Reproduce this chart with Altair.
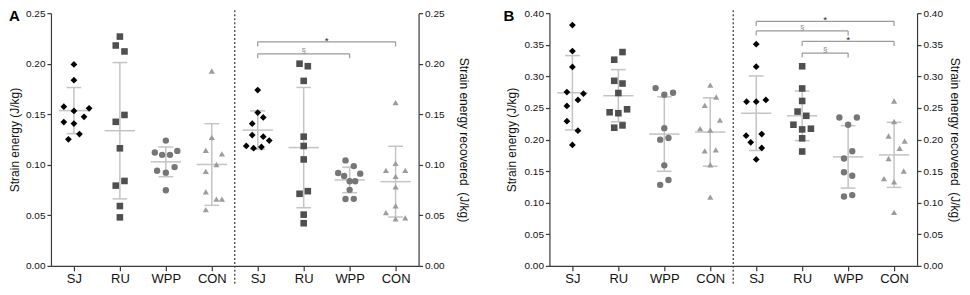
import altair as alt
import pandas as pd

GROUPS = ["SJ", "RU", "WPP", "CON"]
SHAPES = ["diamond", "square", "circle", "triangle-up"]
COLORS = ["#000000", "#4f4f4f", "#767676", "#9c9c9c"]
SIZES = [46, 38, 38, 56]
LINE = "#c4c4c4"
AXIS_COLOR = "#3a3a3a"
FONT = "Arial"

LEFT_TITLE = "Strain energy (J/kg)"
RIGHT_TITLE = "Strain energy recovered \u00a0(J/kg)"

# ---------------- Panel A ----------------
A_ENERGY = {
    "SJ": [0.1993, 0.1837, 0.1575, 0.1559, 0.1533, 0.1474, 0.1422, 0.1408, 0.1304, 0.1252],
    "RU": [0.2268, 0.2180, 0.2121, 0.1493, 0.1425, 0.1163, 0.0840, 0.0794, 0.0592, 0.0480],
    "WPP": [0.1239, 0.1121, 0.1098, 0.1098, 0.1137, 0.0941, 0.0922, 0.0977, 0.0748],
    "CON": [0.1928, 0.1271, 0.1144, 0.1108, 0.1003, 0.0935, 0.0732, 0.0660, 0.0660, 0.0556],
}
A_ENERGY_JITTER = {
    "SJ": [0, 0, -0.22, 0.33, 0, 0.22, -0.22, 0, 0.12, -0.12],
    "RU": [0, -0.09, 0.1, 0.1, -0.09, 0, 0.1, -0.09, 0, 0],
    "WPP": [0, -0.24, -0.08, 0.09, 0.25, -0.19, 0, 0.19, 0],
    "CON": [0, 0, -0.13, 0.22, 0.1, -0.13, -0.13, 0.1, 0.22, -0.13],
}
A_RECOV = {
    "SJ": [0.1739, 0.1517, 0.1468, 0.1406, 0.1294, 0.1278, 0.1239, 0.1186, 0.1164, 0.1176],
    "RU": [0.2000, 0.1975, 0.1830, 0.1278, 0.1186, 0.1053, 0.0713, 0.0739, 0.0507, 0.0422],
    "WPP": [0.1043, 0.0987, 0.0919, 0.0889, 0.0912, 0.0837, 0.0837, 0.0752, 0.0661, 0.0663],
    "CON": [0.1615, 0.1014, 0.0945, 0.0945, 0.0886, 0.0781, 0.0595, 0.0526, 0.0465, 0.0475],
}
A_RECOV_JITTER = {
    "SJ": [0, 0, 0.12, -0.12, -0.12, 0.12, 0.25, -0.25, -0.09, 0.08],
    "RU": [-0.09, 0.09, 0, 0, 0, 0, -0.09, 0.09, 0, 0],
    "WPP": [-0.09, 0.09, -0.25, -0.12, 0.23, 0, 0.12, 0, -0.09, 0.09],
    "CON": [0, 0, -0.21, 0.21, 0, 0, 0, -0.21, 0, 0.21],
}
A_ENERGY_MEAN = [0.1536, 0.1337, 0.1029, 0.1003]
A_ENERGY_SD = [0.0228, 0.0674, 0.0147, 0.0404]
A_RECOV_MEAN = [0.1343, 0.1170, 0.0850, 0.0833]
A_RECOV_SD = [0.0190, 0.0595, 0.0126, 0.0350]
A_BR_FROM = ["SJ", "SJ"]
A_BR_TO = ["CON", "WPP"]
A_BR_Y = [0.2216, 0.2098]
A_BR_TEXT = ["*", "§"]

# ---------------- Panel B ----------------
B_ENERGY = {
    "SJ": [0.3812, 0.3399, 0.3148, 0.2751, 0.2725, 0.2626, 0.2532, 0.2290, 0.2140, 0.1914],
    "RU": [0.3384, 0.3263, 0.2929, 0.2886, 0.2736, 0.2431, 0.2416, 0.2478, 0.2187, 0.2223],
    "WPP": [0.2814, 0.2709, 0.2740, 0.2180, 0.1998, 0.2024, 0.1591, 0.1282, 0.1360],
    "CON": [0.2861, 0.2673, 0.2541, 0.2306, 0.2171, 0.2149, 0.1820, 0.1835, 0.1600, 0.1089],
}
B_ENERGY_JITTER = {
    "SJ": [0, 0, 0, -0.12, 0.24, 0.12, -0.12, -0.12, 0.12, 0],
    "RU": [0.09, -0.09, -0.09, 0.09, 0, -0.19, 0, 0.19, -0.09, 0.09],
    "WPP": [-0.19, 0, 0.19, 0, -0.09, 0.09, 0, -0.09, 0.09],
    "CON": [0, 0.13, -0.12, 0.21, -0.22, 0, -0.12, 0.12, 0, 0],
}
B_RECOV = {
    "SJ": [0.3509, 0.3153, 0.2599, 0.2599, 0.2626, 0.2061, 0.2086, 0.1956, 0.1867, 0.1685],
    "RU": [0.3159, 0.2808, 0.2610, 0.2442, 0.2375, 0.2234, 0.2160, 0.2171, 0.2019, 0.1810],
    "WPP": [0.2348, 0.2348, 0.2234, 0.1815, 0.1700, 0.1481, 0.1427, 0.1098, 0.1120],
    "CON": [0.2610, 0.2285, 0.2055, 0.1976, 0.1862, 0.1700, 0.1501, 0.1380, 0.1329, 0.0847],
}
B_RECOV_JITTER = {
    "SJ": [0, 0, -0.21, 0, 0.21, -0.22, 0.12, -0.12, 0.12, 0],
    "RU": [0, 0, 0, -0.1, 0.09, -0.19, 0, 0.19, 0, 0],
    "WPP": [-0.19, 0.19, 0, 0.09, -0.09, -0.09, 0.09, -0.09, 0.09],
    "CON": [0, 0, -0.12, 0.23, 0.12, -0.12, 0.21, -0.22, 0, 0],
}
B_ENERGY_MEAN = [0.2740, 0.2693, 0.2086, 0.2118]
B_ENERGY_SD = [0.0588, 0.0413, 0.0589, 0.0541]
B_RECOV_MEAN = [0.2416, 0.2375, 0.1725, 0.1757]
B_RECOV_SD = [0.0590, 0.0393, 0.0494, 0.0515]
B_BR_FROM = ["SJ", "SJ", "RU", "RU"]
B_BR_TO = ["CON", "WPP", "CON", "WPP"]
B_BR_Y = [0.3870, 0.3718, 0.3553, 0.3368]
B_BR_TEXT = ["*", "§", "*", "§"]

W, H = 368, 253
XSCALE = alt.Scale(domain=[0.5, 8.5], nice=False, zero=False)
TICK_POS = list(range(1, 9))
LABEL_EXPR = "[" + ",".join("'%s'" % g for g in GROUPS * 2) + "][datum.value - 1]"
XAXIS = alt.Axis(values=TICK_POS, labelExpr=LABEL_EXPR, title=None, grid=False,
                 tickSize=5, labelPadding=2, labelFontSize=13, labelAngle=0)


def make_panel(letter, letter_x, title_x, rtitle_x, ymax, energy, energy_j, recov, recov_j,
               e_mean, e_sd, r_mean, r_sd, br_from, br_to, br_y, br_text):
    rows = []
    for vals_d, jit_d, offset in ((energy, energy_j, 1), (recov, recov_j, 5)):
        for gi, g in enumerate(GROUPS):
            for v, j in zip(vals_d[g], jit_d[g]):
                rows.append({"group": g, "pos": gi + offset, "jitter": j, "value": v})
    pts = pd.DataFrame(rows)

    srows = []
    for means, sds, offset in ((e_mean, e_sd, 1), (r_mean, r_sd, 5)):
        for gi, g in enumerate(GROUPS):
            srows.append({"group": g, "pos": gi + offset, "mean": means[gi], "sd": sds[gi]})
    summ = pd.DataFrame(srows)

    br = pd.DataFrame({
        "xa": [GROUPS.index(f) + 5 for f in br_from],
        "xb": [GROUPS.index(t) + 5 for t in br_to],
        "y": br_y,
        "label": br_text,
    })

    yscale = alt.Scale(domain=[0, ymax], nice=False, zero=True)
    nt = int(round(ymax / 0.05))
    yticks = [round(k * 0.05, 2) for k in range(nt + 1)]

    def X(field):
        return alt.X(field, scale=XSCALE, axis=XAXIS)

    left_axis = alt.Axis(values=yticks, format=".2f", orient="left", title=LEFT_TITLE,
                         titleX=title_x, titleY=H / 2, titleAngle=270,
                         titleBaseline="middle", titleAlign="center",
                         grid=False, tickSize=4, labelPadding=2, labelFontSize=10,
                         titleFontSize=12, titleFontWeight="normal")
    right_axis = alt.Axis(values=yticks, format=".2f", orient="right", title=RIGHT_TITLE,
                          titleX=rtitle_x, titleY=H / 2, titleAngle=90,
                          titleBaseline="middle", titleAlign="center",
                          grid=False, tickSize=4, labelPadding=2, labelFontSize=10,
                          titleFontSize=12, titleFontWeight="normal")

    sbase = alt.Chart(summ).transform_calculate(
        m1="datum.pos - 0.33", m2="datum.pos + 0.33",
        c1="datum.pos - 0.16", c2="datum.pos + 0.16",
        lo="datum.mean - datum.sd", hi="datum.mean + datum.sd",
    )
    mean_rule = sbase.mark_rule(color=LINE, strokeWidth=1.5).encode(
        x=X("m1:Q"), x2="m2:Q",
        y=alt.Y("mean:Q", scale=yscale, axis=right_axis),
    )
    sd_rule = sbase.mark_rule(color=LINE, strokeWidth=1.5).encode(
        x=X("pos:Q"),
        y=alt.Y("lo:Q", scale=yscale, axis=None), y2="hi:Q",
    )
    cap_hi = sbase.mark_rule(color=LINE, strokeWidth=1.5).encode(
        x=X("c1:Q"), x2="c2:Q",
        y=alt.Y("hi:Q", scale=yscale, axis=None),
    )
    cap_lo = sbase.mark_rule(color=LINE, strokeWidth=1.5).encode(
        x=X("c1:Q"), x2="c2:Q",
        y=alt.Y("lo:Q", scale=yscale, axis=None),
    )

    points = alt.Chart(pts).transform_calculate(
        xj="datum.pos + datum.jitter"
    ).mark_point(filled=True, opacity=1).encode(
        x=X("xj:Q"),
        y=alt.Y("value:Q", scale=yscale, axis=left_axis),
        shape=alt.Shape("group:N", scale=alt.Scale(domain=GROUPS, range=SHAPES), legend=None),
        color=alt.Color("group:N", scale=alt.Scale(domain=GROUPS, range=COLORS), legend=None),
        size=alt.Size("group:O", scale=alt.Scale(domain=GROUPS, range=SIZES), legend=None),
    )

    drop = ymax * 0.018
    bbase = alt.Chart(br).transform_calculate(
        ylo="datum.y - %f" % drop, xm="(datum.xa + datum.xb) / 2"
    )
    br_h = bbase.mark_rule(color="#9a9a9a", strokeWidth=1.2).encode(
        x=X("xa:Q"), x2="xb:Q",
        y=alt.Y("y:Q", scale=yscale, axis=None),
    )
    br_l = bbase.mark_rule(color="#9a9a9a", strokeWidth=1.2).encode(
        x=X("xa:Q"),
        y=alt.Y("y:Q", scale=yscale, axis=None), y2="ylo:Q",
    )
    br_r = bbase.mark_rule(color="#9a9a9a", strokeWidth=1.2).encode(
        x=X("xb:Q"),
        y=alt.Y("y:Q", scale=yscale, axis=None), y2="ylo:Q",
    )
    br_star = bbase.transform_filter("datum.label == '*'").mark_text(
        baseline="alphabetic", fontSize=10, color="#222", dy=2
    ).encode(
        x=X("xm:Q"),
        y=alt.Y("y:Q", scale=yscale, axis=None), text="label:N",
    )
    br_sec = bbase.transform_filter("datum.label != '*'").mark_text(
        baseline="alphabetic", fontSize=8, color="#8a8a8a", dy=-1
    ).encode(
        x=X("xm:Q"),
        y=alt.Y("y:Q", scale=yscale, axis=None), text="label:N",
    )

    sep = alt.Chart(pd.DataFrame({"x": [4.5]})).mark_rule(
        color="#444", strokeDash=[2, 2], strokeWidth=1.3
    ).encode(
        x=X("x:Q"),
        y=alt.value(-3), y2=alt.value(H + 18),
    )

    letter_mark = alt.Chart(pd.DataFrame({"letter": [letter]})).mark_text(
        align="left", baseline="top", fontSize=15, fontWeight="bold", color="#000"
    ).encode(x=alt.value(letter_x), y=alt.value(-4), text="letter:N")

    return alt.layer(
        sep, mean_rule, sd_rule, cap_hi, cap_lo, points,
        br_h, br_l, br_r, br_star, br_sec, letter_mark,
    ).resolve_axis(y="independent").properties(width=W, height=H)


panel_a = make_panel("A", -42, -36.5, 45, 0.25, A_ENERGY, A_ENERGY_JITTER, A_RECOV, A_RECOV_JITTER,
                     A_ENERGY_MEAN, A_ENERGY_SD, A_RECOV_MEAN, A_RECOV_SD,
                     A_BR_FROM, A_BR_TO, A_BR_Y, A_BR_TEXT)
panel_b = make_panel("B", -46, -37.5, 37, 0.40, B_ENERGY, B_ENERGY_JITTER, B_RECOV, B_RECOV_JITTER,
                     B_ENERGY_MEAN, B_ENERGY_SD, B_RECOV_MEAN, B_RECOV_SD,
                     B_BR_FROM, B_BR_TO, B_BR_Y, B_BR_TEXT)

chart = alt.hconcat(panel_a, panel_b, spacing=131, bounds="flush").properties(
    padding={"left": 0, "top": 0, "right": 2, "bottom": 0}
).configure(font=FONT).configure_view(stroke=None).configure_axis(
    domainColor=AXIS_COLOR, tickColor=AXIS_COLOR, labelColor="#111", titleColor="#111",
    labelFont=FONT, titleFont=FONT, domainWidth=1.2, tickWidth=1.2,
)

chart.save("out.html", embed_options={"renderer": "svg", "actions": False})
